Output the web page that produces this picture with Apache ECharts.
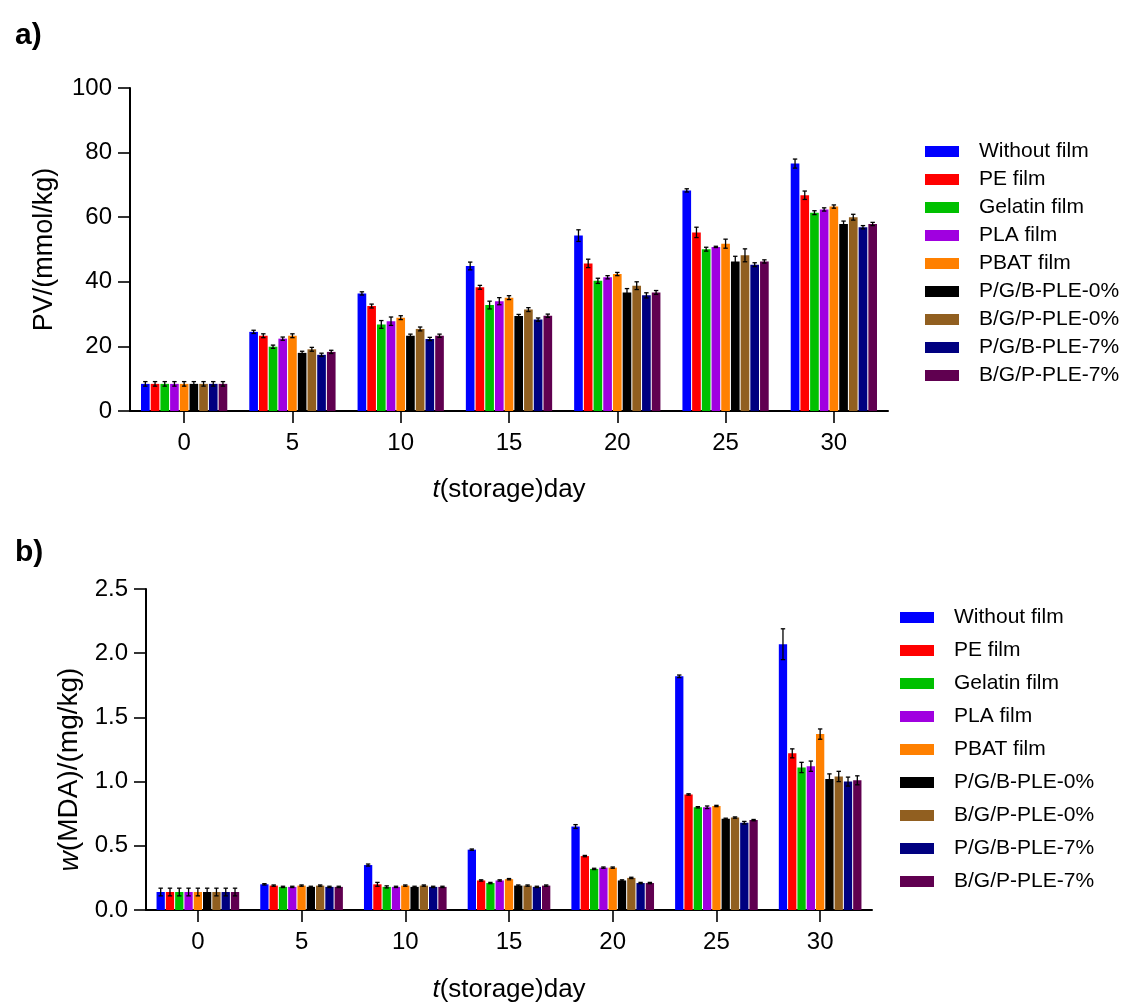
<!DOCTYPE html>
<html><head><meta charset="utf-8">
<script src="https://cdn.jsdelivr.net/npm/echarts@6/dist/echarts.min.js"></script>
<style>html,body{margin:0;padding:0;background:#fff}#c{width:1129px;height:1005px}</style>
</head><body><div id="c"></div>
<script>
const days = ['0','5','10','15','20','25','30'];
const names = ['Without film','PE film','Gelatin film','PLA film','PBAT film','P/G/B-PLE-0%','B/G/P-PLE-0%','P/G/B-PLE-7%','B/G/P-PLE-7%'];
const colors = ['#0000FF','#FF0000','#00C000','#A000E0','#FF8000','#000000','#915F20','#000080','#600050'];

const pvWithout = [8.4, 24.5, 36.4, 44.9, 54.3, 68.3, 76.6];
const pvPE      = [8.4, 23.3, 32.5, 38.3, 45.7, 55.3, 66.8];
const pvGelatin = [8.4, 19.9, 26.8, 32.8, 40.3, 50.1, 61.4];
const pvPLA     = [8.4, 22.4, 27.8, 34.0, 41.4, 50.8, 62.4];
const pvPBAT    = [8.4, 23.3, 28.9, 35.1, 42.4, 51.8, 63.3];
const pvPGB0    = [8.4, 18.0, 23.3, 29.4, 36.7, 46.3, 57.9];
const pvBGP0    = [8.4, 19.1, 25.4, 31.4, 38.8, 48.2, 60.0];
const pvPGB7    = [8.4, 17.4, 22.3, 28.3, 35.8, 45.3, 56.9];
const pvBGP7    = [8.4, 18.3, 23.3, 29.5, 36.7, 46.3, 57.9];

const pvErrWithout = [0.7, 0.5, 0.5, 1.2, 1.8, 0.5, 1.4];
const pvErrPE      = [0.7, 0.6, 0.6, 0.6, 1.3, 1.6, 1.3];
const pvErrGelatin = [0.7, 0.5, 1.2, 1.2, 0.8, 0.6, 0.6];
const pvErrPLA     = [0.7, 0.5, 1.3, 1.1, 0.5, 0.2, 0.5];
const pvErrPBAT    = [0.7, 0.6, 0.6, 0.6, 0.5, 1.4, 0.5];
const pvErrPGB0    = [0.7, 0.5, 0.5, 0.5, 1.2, 1.6, 0.9];
const pvErrBGP0    = [0.7, 0.6, 0.6, 0.6, 1.2, 2.0, 0.9];
const pvErrPGB7    = [0.7, 0.5, 0.5, 0.5, 0.8, 0.6, 0.5];
const pvErrBGP7    = [0.7, 0.5, 0.5, 0.5, 0.6, 0.5, 0.5];

const mdaWithout = [0.14, 0.20, 0.35, 0.47, 0.65, 1.82, 2.07];
const mdaPE      = [0.14, 0.19, 0.20, 0.23, 0.42, 0.90, 1.22];
const mdaGelatin = [0.14, 0.18, 0.18, 0.21, 0.32, 0.80, 1.11];
const mdaPLA     = [0.14, 0.18, 0.18, 0.23, 0.33, 0.80, 1.12];
const mdaPBAT    = [0.14, 0.19, 0.19, 0.24, 0.33, 0.81, 1.37];
const mdaPGB0    = [0.14, 0.18, 0.18, 0.19, 0.23, 0.71, 1.02];
const mdaBGP0    = [0.14, 0.19, 0.19, 0.19, 0.25, 0.72, 1.04];
const mdaPGB7    = [0.14, 0.18, 0.18, 0.18, 0.21, 0.68, 1.00];
const mdaBGP7    = [0.14, 0.18, 0.18, 0.19, 0.21, 0.70, 1.01];

const mdaErrWithout = [0.03, 0.005, 0.008, 0.005, 0.015, 0.01, 0.12];
const mdaErrPE      = [0.03, 0.005, 0.015, 0.005, 0.005, 0.005, 0.035];
const mdaErrGelatin = [0.03, 0.005, 0.008, 0.005, 0.005, 0.005, 0.04];
const mdaErrPLA     = [0.03, 0.005, 0.005, 0.005, 0.005, 0.01, 0.04];
const mdaErrPBAT    = [0.03, 0.005, 0.005, 0.005, 0.005, 0.005, 0.04];
const mdaErrPGB0    = [0.03, 0.005, 0.005, 0.005, 0.005, 0.005, 0.04];
const mdaErrBGP0    = [0.03, 0.005, 0.005, 0.005, 0.005, 0.005, 0.04];
const mdaErrPGB7    = [0.03, 0.005, 0.005, 0.005, 0.005, 0.01, 0.035];
const mdaErrBGP7    = [0.03, 0.005, 0.005, 0.005, 0.005, 0.005, 0.035];

const pvAll = [pvWithout,pvPE,pvGelatin,pvPLA,pvPBAT,pvPGB0,pvBGP0,pvPGB7,pvBGP7];
const pvErrAll = [pvErrWithout,pvErrPE,pvErrGelatin,pvErrPLA,pvErrPBAT,pvErrPGB0,pvErrBGP0,pvErrPGB7,pvErrBGP7];
const mdaAll = [mdaWithout,mdaPE,mdaGelatin,mdaPLA,mdaPBAT,mdaPGB0,mdaBGP0,mdaPGB7,mdaBGP7];
const mdaErrAll = [mdaErrWithout,mdaErrPE,mdaErrGelatin,mdaErrPLA,mdaErrPBAT,mdaErrPGB0,mdaErrBGP0,mdaErrPGB7,mdaErrBGP7];

const FONT = 'Liberation Sans, Arial, sans-serif';
const BW = 0.08, GAP = 0.12; // fractions of band
const pitch = BW * (1 + GAP);

function errData(means, errs) {
  const out = [];
  means.forEach((arr, s) => arr.forEach((v, d) => out.push([d, v, errs[s][d], s])));
  return out;
}
function renderErr(params, api) {
  const d = api.value(0), v = api.value(1), e = api.value(2), s = api.value(3);
  const band = api.size([1, 0])[0];
  const c = api.coord([d, v]);
  const x = c[0] + (s - 4) * band * pitch;
  const yT = api.coord([d, v + e])[1];
  const yB = api.coord([d, v - e])[1];
  const cap = 2.2;
  const st = { stroke: '#000', lineWidth: 1.3 };
  return { type: 'group', children: [
    { type: 'line', shape: { x1: x, y1: yT, x2: x, y2: yB }, style: st },
    { type: 'line', shape: { x1: x - cap, y1: yT, x2: x + cap, y2: yT }, style: st },
    { type: 'line', shape: { x1: x - cap, y1: yB, x2: x + cap, y2: yB }, style: st }
  ]};
}

const axisLine = { show: true, lineStyle: { color: '#000', width: 2 } };
const axisTick = { show: true, inside: false, length: 12, lineStyle: { color: '#000', width: 1.6 } };

function xAx(idx, nameGap, labelMargin) {
  return {
    type: 'category', gridIndex: idx, data: days,
    axisLine, axisTick: Object.assign({ alignWithLabel: true }, axisTick),
    axisLabel: { color: '#000', fontSize: 24, fontFamily: FONT, margin: labelMargin },
    name: '{i|t}(storage)day', nameLocation: 'middle', nameGap,
    nameTextStyle: { color: '#000', fontSize: 26, fontFamily: FONT,
      rich: { i: { fontStyle: 'italic', fontSize: 26, fontFamily: FONT, color: '#000' } } }
  };
}

const series = [];
names.forEach((n, s) => {
  series.push({ name: n, type: 'bar', xAxisIndex: 0, yAxisIndex: 0, data: pvAll[s],
    barWidth: (BW * 100) + '%', barGap: (GAP * 100) + '%', itemStyle: { color: colors[s] } });
});
names.forEach((n, s) => {
  series.push({ name: n, type: 'bar', xAxisIndex: 1, yAxisIndex: 1, data: mdaAll[s],
    barWidth: (BW * 100) + '%', barGap: (GAP * 100) + '%', itemStyle: { color: colors[s] } });
});
series.push({ type: 'custom', xAxisIndex: 0, yAxisIndex: 0, renderItem: renderErr,
  data: errData(pvAll, pvErrAll), encode: { x: 0, y: 1 }, z: 10, silent: true });
series.push({ type: 'custom', xAxisIndex: 1, yAxisIndex: 1, renderItem: renderErr,
  data: errData(mdaAll, mdaErrAll), encode: { x: 0, y: 1 }, z: 10, silent: true });

function legend(left, top, gap) {
  return {
    data: names, orient: 'vertical', left, top, itemWidth: 34, itemHeight: 11, itemGap: gap,
    icon: 'rect', selectedMode: false,
    textStyle: { color: '#000', fontSize: 21, fontFamily: FONT, lineHeight: 20, padding: [0, 0, 0, 15] }
  };
}

const option = {
  animation: false,
  backgroundColor: '#fff',
  title: [
    { text: 'a)', left: 10, top: 16, textStyle: { fontSize: 30, fontWeight: 'bold', fontFamily: FONT, color: '#000' } },
    { text: 'b)', left: 10, top: 533, textStyle: { fontSize: 30, fontWeight: 'bold', fontFamily: FONT, color: '#000' } }
  ],
  grid: [
    { left: 130, right: 241, top: 88, bottom: 594 },
    { left: 146, right: 257, top: 589, bottom: 95 }
  ],
  legend: [legend(920, 136, 7), legend(895, 602, 12)],
  xAxis: [xAx(0, 66, 20), xAx(1, 67, 20)],
  yAxis: [
    { type: 'value', gridIndex: 0, min: 0, max: 100, interval: 20,
      axisLine, axisTick, splitLine: { show: false },
      axisLabel: { color: '#000', fontSize: 24, fontFamily: FONT, margin: 18 },
      name: 'PV/(mmol/kg)', nameLocation: 'middle', nameRotate: 90, nameGap: 72,
      nameTextStyle: { color: '#000', fontSize: 27, fontFamily: FONT } },
    { type: 'value', gridIndex: 1, min: 0, max: 2.5, interval: 0.5,
      axisLine, axisTick, splitLine: { show: false },
      axisLabel: { color: '#000', fontSize: 24, fontFamily: FONT, margin: 18, formatter: v => v.toFixed(1) },
      name: '{i|w}(MDA)/(mg/kg)', nameLocation: 'middle', nameRotate: 90, nameGap: 62,
      nameTextStyle: { color: '#000', fontSize: 28, fontFamily: FONT, padding: [0, 40, 0, 0],
        rich: { i: { fontStyle: 'italic', fontSize: 28, fontFamily: FONT, color: '#000' } } } }
  ],
  series
};
echarts.init(document.getElementById('c')).setOption(option);
</script>
</body></html>
